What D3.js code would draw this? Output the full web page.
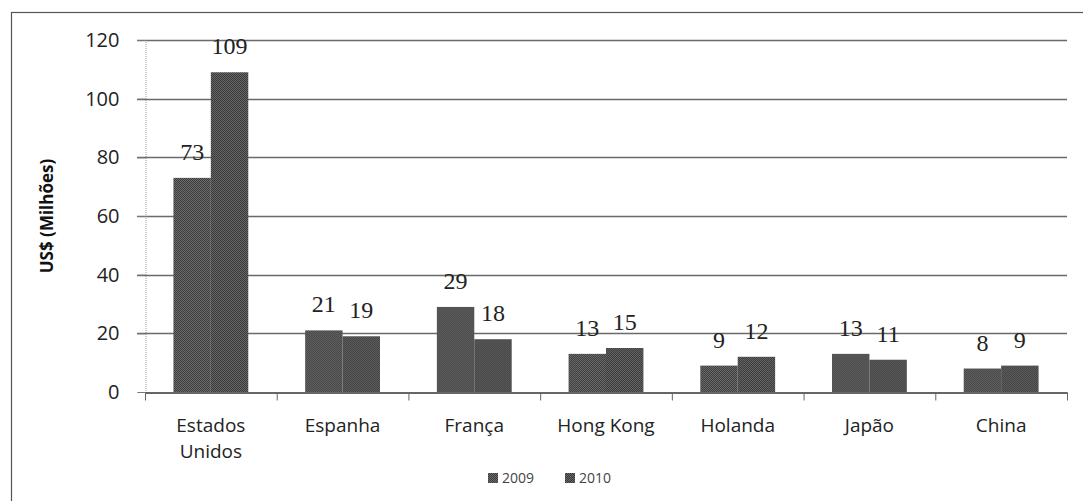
<!DOCTYPE html>
<html>
<head>
<meta charset="utf-8">
<script src="https://cdn.jsdelivr.net/npm/d3@7"></script>
<style>
  html, body { margin: 0; padding: 0; background: #fff; }
  svg { display: block; }
</style>
</head>
<body>
<svg id="chart" width="1083" height="501"></svg>
<script>
// Exportações por país de destino, US$ milhões
const categories = ["Estados Unidos", "Espanha", "França", "Hong Kong", "Holanda", "Japão", "China"];
const seriesNames = ["2009", "2010"];
const values2009 = [73, 21, 29, 13, 9, 13, 8];
const values2010 = [109, 19, 18, 15, 12, 11, 9];
const yTicks = [0, 20, 40, 60, 80, 100, 120];
const yTitle = "US$ (Milhões)";

const svg = d3.select("#chart");
const W = 1083, H = 501;
const plot = { left: 145, right: 1067, top: 40, bottom: 392 };
const sans = "'Open Sans', Lato, sans-serif";

// dithered grey fill, like a printed halftone
const defs = svg.append("defs");
function checker(id, a, b) {
  const p = defs.append("pattern").attr("id", id)
    .attr("width", 2).attr("height", 2).attr("patternUnits", "userSpaceOnUse");
  p.append("rect").attr("width", 2).attr("height", 2).attr("fill", a);
  p.append("rect").attr("width", 1).attr("height", 1).attr("fill", b);
  p.append("rect").attr("x", 1).attr("y", 1).attr("width", 1).attr("height", 1).attr("fill", b);
}
checker("tex2009", "#3a3a3a", "#6e6e6e");
checker("tex2010", "#363636", "#6a6a6a");
const fills = { "2009": "url(#tex2009)", "2010": "url(#tex2010)" };

// outer frame (runs off the right and bottom edges)
svg.append("rect")
  .attr("x", 11.5).attr("y", 12.5)
  .attr("width", W + 20).attr("height", H + 20)
  .attr("fill", "none").attr("stroke", "#555").attr("stroke-width", 1.2);

const y = d3.scaleLinear().domain([0, 120]).range([plot.bottom, plot.top]);
const x0 = d3.scaleBand().domain(categories).range([plot.left, plot.right]).padding(0);
const x1 = d3.scaleBand().domain(seriesNames).range([0, x0.bandwidth()])
  .paddingInner(0).paddingOuter(0.76);

// horizontal gridlines
svg.append("g").selectAll("line").data(yTicks.filter(t => t > 0)).join("line")
  .attr("x1", plot.left - 8).attr("x2", plot.right)
  .attr("y1", d => Math.round(y(d)) + 0.5).attr("y2", d => Math.round(y(d)) + 0.5)
  .attr("stroke", "#6a6a6a").attr("stroke-width", 1.3);

// y axis
const yAxis = d3.axisLeft(y).tickValues(yTicks).tickSize(8).tickPadding(18);
const gy = svg.append("g").attr("transform", `translate(${plot.left + 0.5},0)`).call(yAxis);
gy.select(".domain").attr("stroke", "#999").attr("stroke-dasharray", "1,1");
gy.selectAll(".tick line").attr("stroke", "#777");
gy.selectAll("text")
  .attr("font-family", sans)
  .attr("font-size", 20).attr("fill", "#222");

// bars
const rows = categories.map((c, i) => ({ cat: c, vals: [
  { s: "2009", v: values2009[i] }, { s: "2010", v: values2010[i] }] }));

const groups = svg.append("g").selectAll("g").data(rows).join("g")
  .attr("transform", d => `translate(${x0(d.cat)},0)`);

groups.selectAll("rect").data(d => d.vals).join("rect")
  .attr("x", d => x1(d.s))
  .attr("y", d => y(d.v))
  .attr("width", x1.bandwidth())
  .attr("height", d => y(0) - y(d.v))
  .attr("fill", d => fills[d.s]);

// value labels
groups.selectAll("text").data(d => d.vals).join("text")
  .attr("x", d => x1(d.s) + x1.bandwidth() / 2)
  .attr("y", d => y(d.v) - 18)
  .attr("text-anchor", "middle")
  .attr("font-family", "'Liberation Serif', serif")
  .attr("font-size", 24).attr("fill", "#222")
  .text(d => d.v);

// x axis
const xAxis = d3.axisBottom(x0).tickSize(0).tickPadding(0);
const gx = svg.append("g").attr("transform", `translate(0,${plot.bottom + 0.5})`).call(xAxis);
gx.select(".domain").attr("stroke", "#333").attr("stroke-width", 1.3);
gx.selectAll(".tick text").remove();
// band boundary ticks
const bounds = categories.map(c => x0(c)).concat([plot.right]);
gx.selectAll("line.bound").data(bounds).join("line").attr("class", "bound")
  .attr("x1", d => d + 0.5).attr("x2", d => d + 0.5)
  .attr("y1", 0).attr("y2", 8).attr("stroke", "#666");

// category labels (wrap "Estados Unidos" into two lines)
const catLabels = svg.append("g").selectAll("text").data(categories).join("text")
  .attr("x", d => x0(d) + x0.bandwidth() / 2)
  .attr("y", 432)
  .attr("text-anchor", "middle")
  .attr("font-family", sans)
  .attr("font-size", 19).attr("fill", "#222");
catLabels.each(function (d) {
  const t = d3.select(this);
  const words = d === "Estados Unidos" ? d.split(" ") : [d];
  words.forEach((w, i) => {
    t.append("tspan").attr("x", x0(d) + x0.bandwidth() / 2)
      .attr("dy", i === 0 ? 0 : 26).text(w);
  });
});

// y title
svg.append("text")
  .attr("transform", `translate(53,${(plot.top + plot.bottom) / 2}) rotate(-90)`)
  .attr("text-anchor", "middle")
  .attr("font-family", sans)
  .attr("font-weight", "bold")
  .attr("font-size", 17).attr("fill", "#111")
  .text(yTitle);

// legend
const legend = svg.append("g").selectAll("g").data(seriesNames).join("g")
  .attr("transform", (d, i) => `translate(${488 + i * 77},473)`);
legend.append("rect").attr("width", 10).attr("height", 10).attr("fill", d => fills[d]);
legend.append("text").attr("x", 14).attr("y", 10)
  .attr("font-family", sans)
  .attr("font-size", 14).attr("fill", "#444")
  .text(d => d);
</script>
</body>
</html>
